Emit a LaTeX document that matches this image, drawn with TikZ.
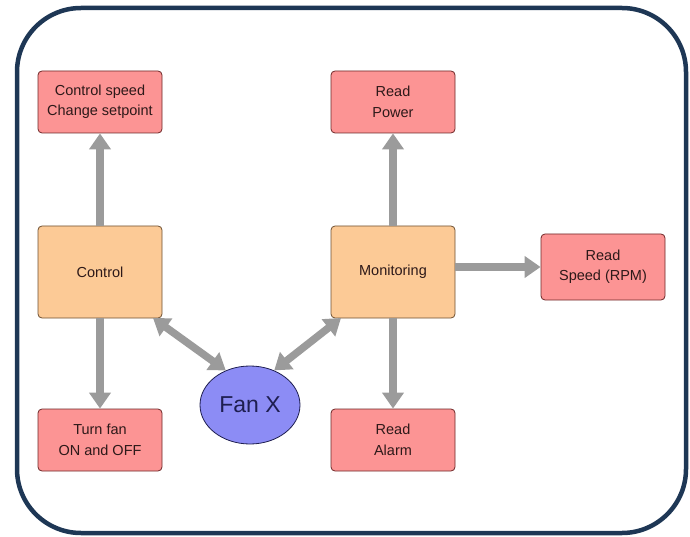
\documentclass[tikz,border=0pt]{standalone}
\usepackage{fontspec}
\setmainfont{Liberation Sans}
\usetikzlibrary{arrows.meta,shapes.geometric}
\definecolor{frameblue}{RGB}{30,55,85}
\definecolor{pinkfill}{RGB}{252,148,148}
\definecolor{pinkline}{RGB}{110,40,40}
\definecolor{orangefill}{RGB}{252,202,150}
\definecolor{orangeline}{RGB}{110,80,50}
\definecolor{fanfill}{RGB}{140,140,245}
\definecolor{fanline}{RGB}{30,30,80}
\definecolor{arrowgray}{RGB}{155,155,155}
\definecolor{labeltext}{RGB}{45,25,25}
\begin{document}
\begin{tikzpicture}[x=1pt,y=-1pt,
  readbox/.style={draw=pinkline,fill=pinkfill,rounded corners=4pt,line width=0.8pt,text=labeltext,
    minimum width=124pt,minimum height=62pt,align=center,font=\fontsize{14.5}{20.5}\selectfont},
  mainbox/.style={draw=orangeline,fill=orangefill,rounded corners=4pt,line width=0.8pt,text=labeltext,
    minimum width=124pt,minimum height=92pt,align=center,font=\fontsize{14.5}{20.5}\selectfont},
  fan/.style={ellipse,draw=fanline,fill=fanfill,line width=0.8pt,text=fanline,
    minimum width=100pt,minimum height=78pt,font=\fontsize{23}{26}\selectfont},
  flow/.style={draw=arrowgray,line width=7.5pt,-{Triangle[width=21pt,length=16pt]}},
  biflow/.style={draw=arrowgray,line width=7.5pt,{Triangle[width=21pt,length=16pt]}-{Triangle[width=21pt,length=16pt]}}]
\useasboundingbox (0,0) rectangle (690,537);
% outer frame
\draw[frameblue,line width=4.5pt,rounded corners=64pt] (17,8) rectangle (686,533);

% boxes
\node[readbox] (speed) at (100,102) {Control speed\\Change setpoint};
\node[readbox] (power) at (393,102) {Read\\Power};
\node[mainbox] (control) at (100,272) {Control};
\node[mainbox] (monitor) at (393,272) {Monitoring};
\node[readbox,minimum height=66pt] (rpm) at (603,267) {Read\\Speed (RPM)};
\node[readbox] (onoff) at (100,440) {Turn fan\\ON and OFF};
\node[readbox] (alarm) at (393,440) {Read\\Alarm};
\node[fan] (fanx) at (250,405) {Fan X};

% connectors
\draw[flow] (control.north) -- (speed.south);
\draw[flow] (control.south) -- (onoff.north);
\draw[flow] (monitor.north) -- (power.south);
\draw[flow] (monitor.south) -- (alarm.north);
\draw[flow] (monitor.east |- rpm.west) -- (rpm.west);
\coordinate (cc) at (153,318);
\coordinate (mc) at (341,318);
\draw[biflow] (cc) -- (fanx.125);
\draw[biflow] (mc) -- (fanx.55);
\end{tikzpicture}
\end{document}
